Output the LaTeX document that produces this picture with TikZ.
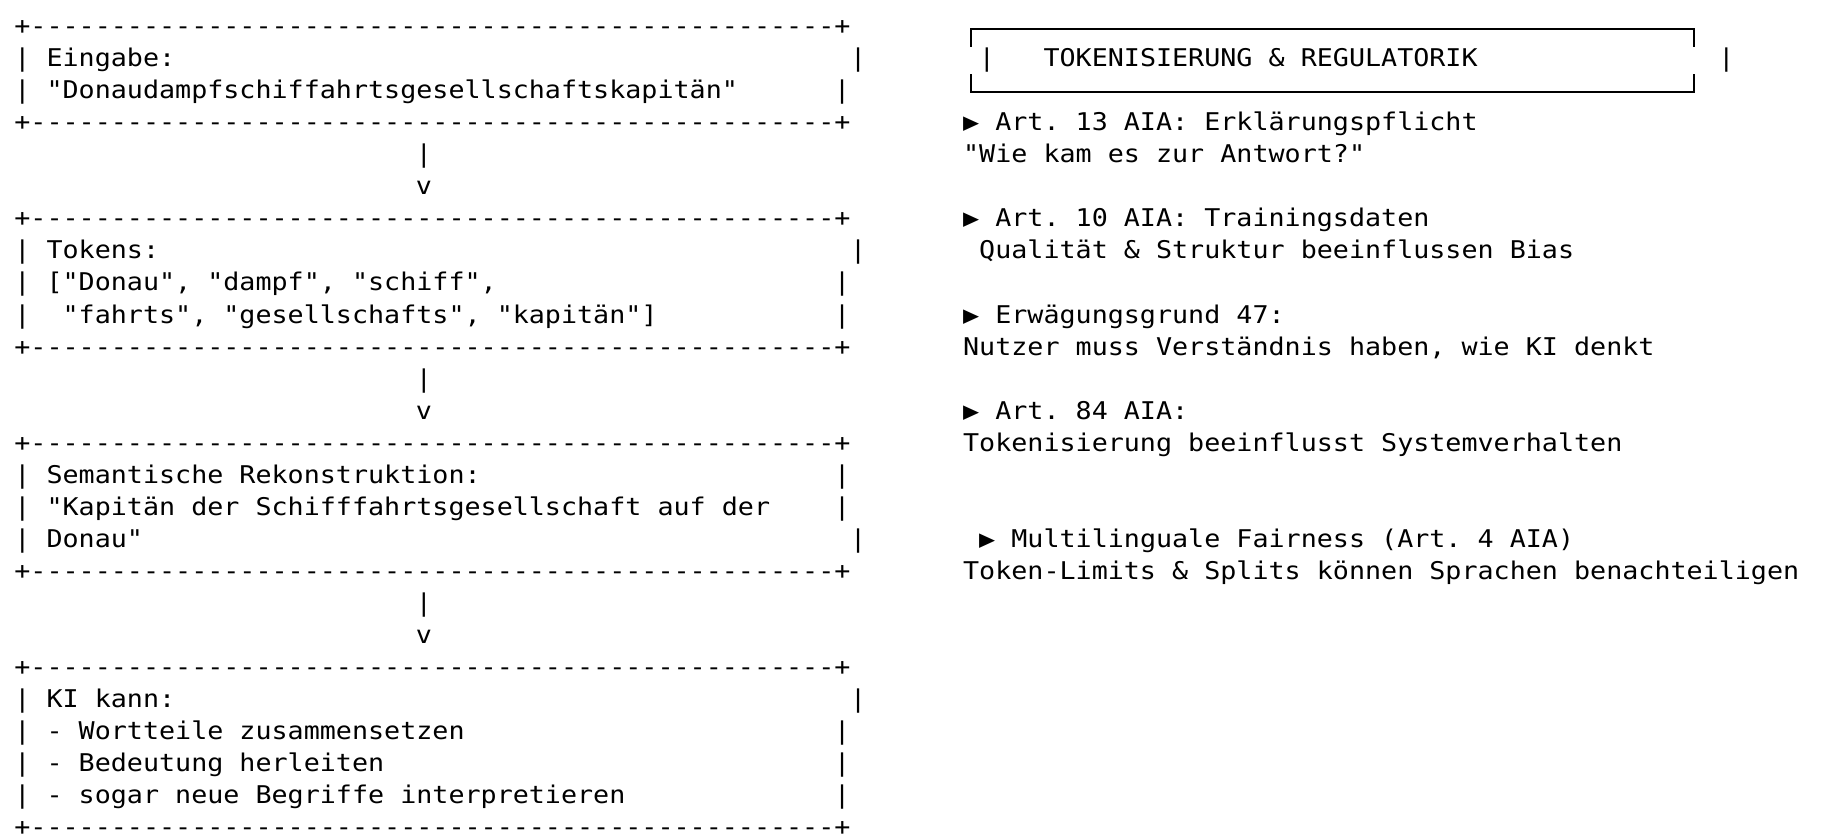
\documentclass[tikz,border=0pt]{standalone}
\usepackage{fontspec}
\setmonofont{DejaVu Sans Mono}
\usetikzlibrary{positioning}

% grid of the text screen: 16.08px per column, 32.05px per row
\newcommand{\colx}[1]{14+16.08*#1}
\newcommand{\colc}[1]{22+16.08*#1}
\newcommand{\rowy}[1]{34.6+32.05*(#1-1)}
\newcommand{\cells}[1]{\scalebox{1.0946}[1]{#1}}
\newcommand{\dashline}{\cells{+--------------------------------------------------+}}

\tikzset{
  ascii/.style = {anchor=base west, inner sep=0pt,
                  font=\ttfamily\fontsize{12.2pt}{14pt}\selectfont\frenchspacing},
  bar/.style   = {ascii, anchor=base},
  frame/.style = {line width=0.9pt, line cap=rect},
}

\begin{document}
\begin{tikzpicture}[x=0.5pt, y=-0.5pt]
  \fill[white] (0,0) rectangle (1834,838);
  \useasboundingbox (0,0) rectangle (1834,838);

  % Eingabe
  \node[ascii] (eingTop)  at ({\colx{0}},{\rowy{1}}) {\dashline};
  \node[ascii] (eingHead) at ({\colx{0}},{\rowy{2}}) {\cells{| Eingabe:}};
  \node[bar]   (eingBarA) at ({\colc{52}},{\rowy{2}}) {\cells{|}};
  \node[ascii] (eingWord) at ({\colx{0}},{\rowy{3}}) {\cells{| "Donaudampfschiffahrtsgesellschaftskapitän"}};
  \node[bar]   (eingBarB) at ({\colc{51}},{\rowy{3}}) {\cells{|}};
  \node[ascii] (eingBot)  at ({\colx{0}},{\rowy{4}}) {\dashline};

  \node[bar] (shaftA) at ({\colc{25}},{\rowy{5}}) {\cells{|}};
  \node[bar] (headA)  at ({\colc{25}},{\rowy{6}}) {\cells{v}};

  % Tokens
  \node[ascii] (tokTop)  at ({\colx{0}},{\rowy{7}}) {\dashline};
  \node[ascii] (tokHead) at ({\colx{0}},{\rowy{8}}) {\cells{| Tokens:}};
  \node[bar]   (tokBarA) at ({\colc{52}},{\rowy{8}}) {\cells{|}};
  \node[ascii] (tokOne)  at ({\colx{0}},{\rowy{9}}) {\cells{| ["Donau", "dampf", "schiff",}};
  \node[bar]   (tokBarB) at ({\colc{51}},{\rowy{9}}) {\cells{|}};
  \node[ascii] (tokTwo)  at ({\colx{0}},{\rowy{10}}) {\cells{|\ \ "fahrts", "gesellschafts", "kapitän"]}};
  \node[bar]   (tokBarC) at ({\colc{51}},{\rowy{10}}) {\cells{|}};
  \node[ascii] (tokBot)  at ({\colx{0}},{\rowy{11}}) {\dashline};

  \node[bar] (shaftB) at ({\colc{25}},{\rowy{12}}) {\cells{|}};
  \node[bar] (headB)  at ({\colc{25}},{\rowy{13}}) {\cells{v}};

  % Semantische Rekonstruktion
  \node[ascii] (semTop)  at ({\colx{0}},{\rowy{14}}) {\dashline};
  \node[ascii] (semHead) at ({\colx{0}},{\rowy{15}}) {\cells{| Semantische Rekonstruktion:}};
  \node[bar]   (semBarA) at ({\colc{51}},{\rowy{15}}) {\cells{|}};
  \node[ascii] (semOne)  at ({\colx{0}},{\rowy{16}}) {\cells{| "Kapitän der Schifffahrtsgesellschaft auf der}};
  \node[bar]   (semBarB) at ({\colc{51}},{\rowy{16}}) {\cells{|}};
  \node[ascii] (semTwo)  at ({\colx{0}},{\rowy{17}}) {\cells{| Donau"}};
  \node[bar]   (semBarC) at ({\colc{52}},{\rowy{17}}) {\cells{|}};
  \node[ascii] (semBot)  at ({\colx{0}},{\rowy{18}}) {\dashline};

  \node[bar] (shaftC) at ({\colc{25}},{\rowy{19}}) {\cells{|}};
  \node[bar] (headC)  at ({\colc{25}},{\rowy{20}}) {\cells{v}};

  % KI kann
  \node[ascii] (kiTop)   at ({\colx{0}},{\rowy{21}}) {\dashline};
  \node[ascii] (kiHead)  at ({\colx{0}},{\rowy{22}}) {\cells{| KI kann:}};
  \node[bar]   (kiBarA)  at ({\colc{52}},{\rowy{22}}) {\cells{|}};
  \node[ascii] (kiOne)   at ({\colx{0}},{\rowy{23}}) {\cells{| - Wortteile zusammensetzen}};
  \node[bar]   (kiBarB)  at ({\colc{51}},{\rowy{23}}) {\cells{|}};
  \node[ascii] (kiTwo)   at ({\colx{0}},{\rowy{24}}) {\cells{| - Bedeutung herleiten}};
  \node[bar]   (kiBarC)  at ({\colc{51}},{\rowy{24}}) {\cells{|}};
  \node[ascii] (kiThree) at ({\colx{0}},{\rowy{25}}) {\cells{| - sogar neue Begriffe interpretieren}};
  \node[bar]   (kiBarD)  at ({\colc{51}},{\rowy{25}}) {\cells{|}};
  \node[ascii] (kiBot)   at ({\colx{0}},{\rowy{26}}) {\dashline};

  % title frame on the right
  \coordinate (frameNW) at ({\colc{59}},29);
  \coordinate (frameNE) at ({\colc{104}},29);
  \coordinate (frameSW) at ({\colc{59}},92.3);
  \coordinate (frameSE) at ({\colc{104}},92.3);
  \draw[frame] (frameNW) ++(0,16.7) -- (frameNW) -- (frameNE) -- ++(0,16.7);
  \draw[frame] (frameSW) ++(0,-17) -- (frameSW) -- (frameSE) -- ++(0,-17);
  \node[bar]   (titleBarA) at ({\colc{60}},{\rowy{2}}) {\cells{|}};
  \node[ascii] (title)     at ({\colx{64}},{\rowy{2}}) {\cells{TOKENISIERUNG \& REGULATORIK}};
  \node[bar]   (titleBarB) at ({\colc{106}},{\rowy{2}}) {\cells{|}};

  % notes on the right
  \node[ascii] (artXiii)  at ({\colx{59}},{\rowy{4}})  {\cells{▶ Art. 13 AIA: Erklärungspflicht}};
  \node[ascii] (artXiiiB) at ({\colx{59}},{\rowy{5}})  {\cells{"Wie kam es zur Antwort?"}};
  \node[ascii] (artX)     at ({\colx{59}},{\rowy{7}})  {\cells{▶ Art. 10 AIA: Trainingsdaten}};
  \node[ascii] (artXB)    at ({\colx{60}},{\rowy{8}})  {\cells{Qualität \& Struktur beeinflussen Bias}};
  \node[ascii] (egr)      at ({\colx{59}},{\rowy{10}}) {\cells{▶ Erwägungsgrund 47:}};
  \node[ascii] (egrB)     at ({\colx{59}},{\rowy{11}}) {\cells{Nutzer muss Verständnis haben, wie KI denkt}};
  \node[ascii] (artLxxx)  at ({\colx{59}},{\rowy{13}}) {\cells{▶ Art. 84 AIA:}};
  \node[ascii] (artLxxxB) at ({\colx{59}},{\rowy{14}}) {\cells{Tokenisierung beeinflusst Systemverhalten}};
  \node[ascii] (fair)     at ({\colx{60}},{\rowy{17}}) {\cells{▶ Multilinguale Fairness (Art. 4 AIA)}};
  \node[ascii] (fairB)    at ({\colx{59}},{\rowy{18}}) {\cells{Token-Limits \& Splits können Sprachen benachteiligen}};
\end{tikzpicture}
\end{document}
